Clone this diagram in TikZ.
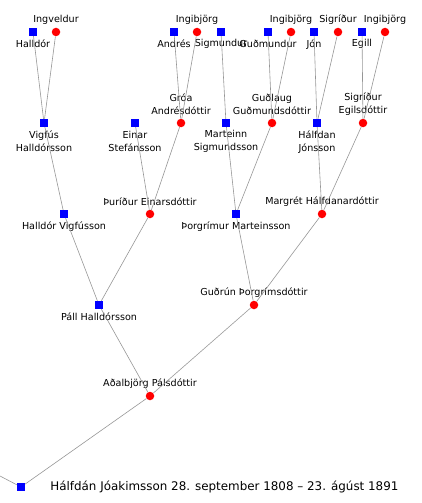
\documentclass[tikz,border=0pt]{standalone}
\usepackage{fontspec}
\setmainfont{DejaVu Sans}
\usetikzlibrary{positioning,calc}
\definecolor{boxblue}{RGB}{0,0,255}
\definecolor{dotred}{RGB}{255,0,0}
\definecolor{linkgray}{RGB}{150,150,150}

\begin{document}
\begin{tikzpicture}[x=1pt,y=-1pt,label distance=8pt,
  male/.style={rectangle,fill=boxblue,minimum size=8pt,inner sep=0pt},
  female/.style={circle,fill=dotred,minimum size=8.5pt,inner sep=0pt},
  every label/.style={font=\fontsize{9.6}{13}\selectfont,inner sep=0pt,anchor=center,align=center},
  lowtwo/.style={yshift=-6.5pt},
  hightwo/.style={yshift=6.5pt},
  link/.style={draw=linkgray,line width=0.6pt}]
\useasboundingbox (0,0) rectangle (422,503);
% top generation
\node[male,label=below:Halldór] (halldor) at (33,32) {};
\node[female,label=above:Ingveldur] (ingveldur) at (56,32) {};
\node[male,label=below:Andrés] (andres) at (174,32) {};
\node[female,label=above:Ingibjörg] (ingibjorgA) at (197,32) {};
\node[male,label=below:Sigmundur] (sigmundur) at (221,32) {};
\node[male,label=below:Guðmundur] (gudmundur) at (268,32) {};
\node[female,label=above:Ingibjörg] (ingibjorgB) at (291,32) {};
\node[male,label=below:Jón] (jon) at (314,32) {};
\node[female,label=above:Sigríður] (sigridur) at (338,32) {};
\node[male,label=below:Egill] (egill) at (362,32) {};
\node[female,label=above:Ingibjörg] (ingibjorgC) at (385,32) {};
% second generation
\node[male,label={[lowtwo]below:{Vigfús\\Halldórsson}}] (vigfus) at (44,123) {};
\node[male,label={[lowtwo]below:{Einar\\Stefánsson}}] (einar) at (135,123) {};
\node[female,label={[hightwo]above:{Gróa\\Andrésdóttir}}] (groa) at (181,123) {};
\node[male,label={[lowtwo]below:{Marteinn\\Sigmundsson}}] (marteinn) at (226,123) {};
\node[female,label={[hightwo]above:{Guðlaug\\Guðmundsdóttir}}] (gudlaug) at (272,123) {};
\node[male,label={[lowtwo]below:{Hálfdan\\Jónsson}}] (halfdanJ) at (317,123) {};
\node[female,label={[hightwo]above:{Sigríður\\Egilsdóttir}}] (sigridurE) at (363,123) {};
% third generation
\node[male,label=below:Halldór Vigfússon] (halldorV) at (64,214) {};
\node[female,label=above:Þuríður Einarsdóttir] (thuridur) at (150,214) {};
\node[male,label=below:Þorgrímur Marteinsson] (thorgrimur) at (236,214) {};
\node[female,label=above:Margrét Hálfdanardóttir] (margret) at (322,214) {};
% fourth and fifth
\node[male,label=below:Páll Halldórsson] (pall) at (99,305) {};
\node[female,label=above:Guðrún Þorgrímsdóttir] (gudrun) at (254,305) {};
\node[female,label=above:Aðalbjörg Pálsdóttir] (adalbjorg) at (150,396) {};
% root
\node[male,label={[anchor=west,xshift=17pt,font=\fontsize{11.9}{14}\selectfont]right:Hálfdán Jóakimsson 28. september 1808 – 23. ágúst 1891}] (root) at (21,487) {};
\coordinate (offleft) at (0,476);
% parent links
\foreach \a/\b in {halldor/vigfus,ingveldur/vigfus,andres/groa,ingibjorgA/groa,
  sigmundur/marteinn,gudmundur/gudlaug,ingibjorgB/gudlaug,jon/halfdanJ,sigridur/halfdanJ,
  egill/sigridurE,ingibjorgC/sigridurE,vigfus/halldorV,einar/thuridur,groa/thuridur,
  marteinn/thorgrimur,gudlaug/thorgrimur,halfdanJ/margret,sigridurE/margret,
  halldorV/pall,thuridur/pall,thorgrimur/gudrun,margret/gudrun,
  pall/adalbjorg,gudrun/adalbjorg,adalbjorg/root,offleft/root}
  \draw[link] (\a) -- (\b);
\end{tikzpicture}
\end{document}
